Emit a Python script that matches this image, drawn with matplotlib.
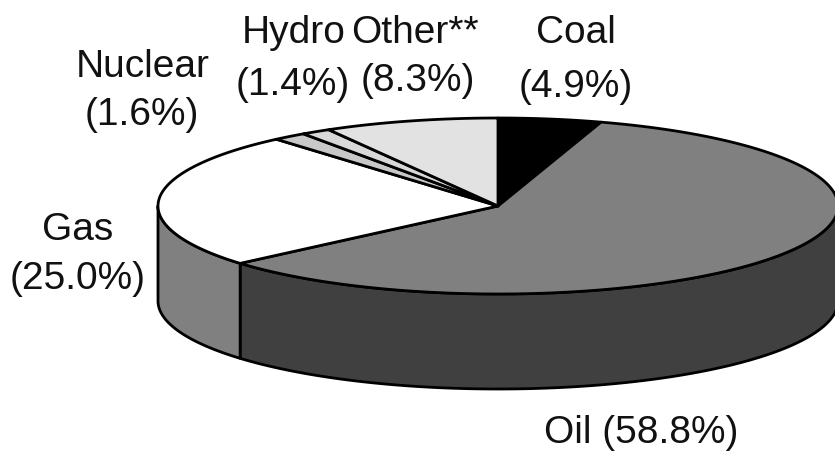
import matplotlib
matplotlib.use("Agg")
import matplotlib.pyplot as plt
import numpy as np

# shares, clockwise from 12 o'clock
names = ["Coal", "Oil", "Gas", "Nuclear", "Hydro", "Other**"]
shares = [4.9, 58.8, 25.0, 1.6, 1.4, 8.3]
top_colors = ["#000000", "#808080", "#ffffff", "#c8c8c8", "#d8d8d8", "#e2e2e2"]
side_colors = ["#000000", "#404040", "#808080", "#808080", "#808080", "#808080"]

# label lines: text, x centre, baseline y in pixels
label_lines = [
    ("Nuclear", 143, 77), ("(1.6%)", 142, 125),
    ("Hydro", 294, 43), ("(1.4%)", 293, 95),
    ("Other**", 415, 43), ("(8.3%)", 418, 91),
    ("Coal", 576, 43), ("(4.9%)", 576, 97),
    ("Gas", 78, 240), ("(25.0%)", 78, 289),
    ("Oil (58.8%)", 641, 443),
]

cx, cy = 498, 206
rx, ry = 340, 88
depth = 95


def rim(a, b, n=200):
    # points along the top ellipse between two angles (degrees clockwise from top)
    t = np.radians(np.linspace(a, b, n))
    return cx + rx * np.sin(t), cy - ry * np.cos(t)


fig = plt.figure(figsize=(8.35, 4.57), dpi=100)
ax = fig.add_axes([0, 0, 1, 1])
ax.set_xlim(0, 835)
ax.set_ylim(457, 0)
ax.axis("off")

edges = np.concatenate([[0], np.cumsum(shares)]) * 3.6

# side walls first, only the front half of the rim shows
for i in range(len(shares)):
    a = max(edges[i], 90)
    b = min(edges[i + 1], 270)
    if a >= b:
        continue
    x, y = rim(a, b)
    ax.fill(np.r_[x, x[::-1]], np.r_[y, y[::-1] + depth],
            facecolor=side_colors[i], edgecolor="black", lw=2.0, joinstyle="round")

# top faces
for i in range(len(shares)):
    x, y = rim(edges[i], edges[i + 1])
    ax.fill(np.r_[cx, x], np.r_[cy, y],
            facecolor=top_colors[i], edgecolor="black", lw=2.0, joinstyle="round")

for s, x, y in label_lines:
    ax.text(x, y, s, ha="center", va="baseline", fontsize=28,
            family="Liberation Sans", color="#111111")

fig.savefig("out.png", dpi=100)
